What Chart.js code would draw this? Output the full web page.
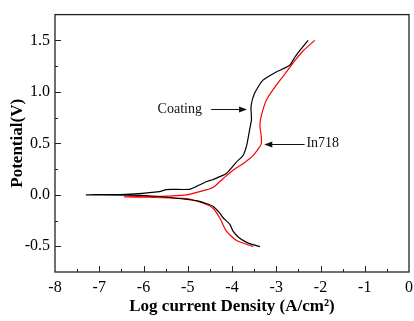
<!DOCTYPE html>
<html>
<head>
<meta charset="utf-8">
<script src="https://cdn.jsdelivr.net/npm/chart.js@4"></script>
<style>
html,body{margin:0;padding:0;background:#fff;}
canvas{display:block;}
</style>
</head>
<body>
<canvas id="c" width="414" height="321"></canvas>
<script>
// ---- data (log current density, potential), ordered along the potential sweep ----
const coatingLogI = [-3.37,-3.55,-3.70,-3.86,-3.98,-4.05,-4.20,-4.28,-4.43,-4.58,-4.73,-4.96,-5.94,-7.29,
                     -6.40,-5.64,-5.48,-4.96,-4.81,-4.58,-4.44,-4.13,-3.90,-3.75,-3.67,-3.60,-3.56,-3.57,-3.49,-3.30,-3.00,-2.70,-2.63,-2.58,-2.47,-2.28];
const coatingE    = [-0.503,-0.482,-0.455,-0.410,-0.350,-0.286,-0.223,-0.176,-0.112,-0.086,-0.064,-0.048,-0.007,0.0,
                     0.004,0.031,0.051,0.053,0.079,0.127,0.146,0.206,0.318,0.382,0.477,0.636,0.731,0.859,0.986,1.113,1.193,1.256,1.30,1.336,1.399,1.50];
const in718LogI   = [-3.52,-3.90,-4.13,-4.28,-4.43,-4.66,-5.03,-5.90,-6.43,
                     -5.60,-5.03,-4.73,-4.43,-4.20,-3.98,-3.75,-3.52,-3.34,-3.34,-3.37,-3.34,-3.22,-3.00,-2.77,-2.58,-2.39,-2.13];
const in718E      = [-0.503,-0.445,-0.350,-0.223,-0.131,-0.080,-0.038,-0.024,-0.020,
                     -0.015,0.0,0.031,0.070,0.158,0.239,0.302,0.382,0.492,0.573,0.668,0.763,0.922,1.065,1.193,1.303,1.399,1.50];
const xTicks = [-8,-7,-6,-5,-4,-3,-2,-1,0];
const yTicks = [-0.5,0.0,0.5,1.0,1.5];
const labels = ["Coating","In718"];
// annotation anchors in data coordinates: text centre, arrow start, arrow end
const labelX = [-5.18,-1.95];
const labelY = [0.833,0.502];
const arrowFromX = [-4.47,-2.36];
const arrowToX   = [-3.66,-3.27];
const arrowY     = [0.833,0.497];

const toPts = (xs, ys) => xs.map((x,i)=>({x:x, y:ys[i]}));

const FONT = "'Liberation Serif','Times New Roman',serif";

const decor = {
  id: 'decor',
  afterDraw(chart){
    const ctx = chart.ctx, a = chart.chartArea;
    const xs = chart.scales.x, ys = chart.scales.y;
    ctx.save();
    ctx.strokeStyle = '#222';
    ctx.lineWidth = 1.3;
    ctx.strokeRect(a.left, a.top, a.right - a.left, a.bottom - a.top);
    ctx.lineWidth = 1;
    ctx.beginPath();
    for (let v = xs.min + 0.5; v < xs.max - 1e-9; v += 0.5){
      const px = Math.round(xs.getPixelForValue(v)) + 0.5;
      const L = Math.abs(v - Math.round(v)) < 1e-9 ? 6 : 3;
      ctx.moveTo(px, a.bottom); ctx.lineTo(px, a.bottom - L);
    }
    for (let v = ys.min + 0.25; v < ys.max - 1e-9; v += 0.25){
      const py = Math.round(ys.getPixelForValue(v)) + 0.5;
      const L = Math.abs(v*2 - Math.round(v*2)) < 1e-9 ? 6 : 3;
      ctx.moveTo(a.left, py); ctx.lineTo(a.left + L, py);
    }
    ctx.stroke();
    // annotations
    ctx.fillStyle = '#111';
    ctx.strokeStyle = '#111';
    ctx.font = '14px ' + FONT;
    ctx.textAlign = 'center';
    ctx.textBaseline = 'middle';
    for (let i = 0; i < labels.length; i++){
      ctx.fillText(labels[i], xs.getPixelForValue(labelX[i]), ys.getPixelForValue(labelY[i]));
      const x0 = xs.getPixelForValue(arrowFromX[i]);
      const x1 = xs.getPixelForValue(arrowToX[i]);
      const y = Math.round(ys.getPixelForValue(arrowY[i])) + 0.5;
      const dir = Math.sign(x1 - x0);
      ctx.lineWidth = 1;
      ctx.beginPath();
      ctx.moveTo(x0, y); ctx.lineTo(x1 - dir*6, y); ctx.stroke();
      ctx.beginPath();
      ctx.moveTo(x1, y); ctx.lineTo(x1 - dir*8, y - 3); ctx.lineTo(x1 - dir*8, y + 3); ctx.closePath(); ctx.fill();
    }
    ctx.restore();
  }
};

new Chart(document.getElementById('c'), {
  type: 'scatter',
  data: {
    datasets: [
      { label: labels[0], data: toPts(coatingLogI, coatingE), showLine: true, borderColor: '#000', borderWidth: 1.2,
        pointRadius: 0, tension: 0.2, fill: false },
      { label: labels[1], data: toPts(in718LogI, in718E), showLine: true, borderColor: '#ff0000', borderWidth: 1.2,
        pointRadius: 0, tension: 0.2, fill: false }
    ]
  },
  options: {
    responsive: false,
    devicePixelRatio: 1,
    animation: false,
    events: [],
    layout: { padding: { top: 9, right: 0, left: 0, bottom: 0 } },
    plugins: { legend: { display: false }, tooltip: { enabled: false } },
    scales: {
      x: {
        type: 'linear', min: -8, max: 0,
        afterBuildTicks: s => { s.ticks = xTicks.map(v => ({ value: v })); },
        afterFit: s => { s.height = 49; s.paddingRight = 5; s.paddingLeft = 0; },
        grid: { display: false, drawTicks: false },
        border: { display: false },
        ticks: { color: '#000', padding: 6, maxRotation: 0, font: { family: FONT, size: 16 },
                 callback: v => String(v) },
        title: { display: true, text: 'Log current Density (A/cm²)', color: '#000',
                 font: { family: FONT, size: 17, weight: 'bold' }, padding: { top: 0, bottom: 4 } }
      },
      y: {
        type: 'linear', min: -0.75, max: 1.75,
        afterBuildTicks: s => { s.ticks = yTicks.map(v => ({ value: v })); },
        afterFit: s => { s.width = 55; },
        grid: { display: false, drawTicks: false },
        border: { display: false },
        ticks: { color: '#000', padding: 5, font: { family: FONT, size: 16 },
                 callback: v => Number(v).toFixed(1) },
        title: { display: true, text: 'Potential(V)', color: '#000',
                 font: { family: FONT, size: 17, weight: 'bold' }, padding: { top: 7, bottom: 0 } }
      }
    }
  },
  plugins: [decor]
});
</script>
</body>
</html>
